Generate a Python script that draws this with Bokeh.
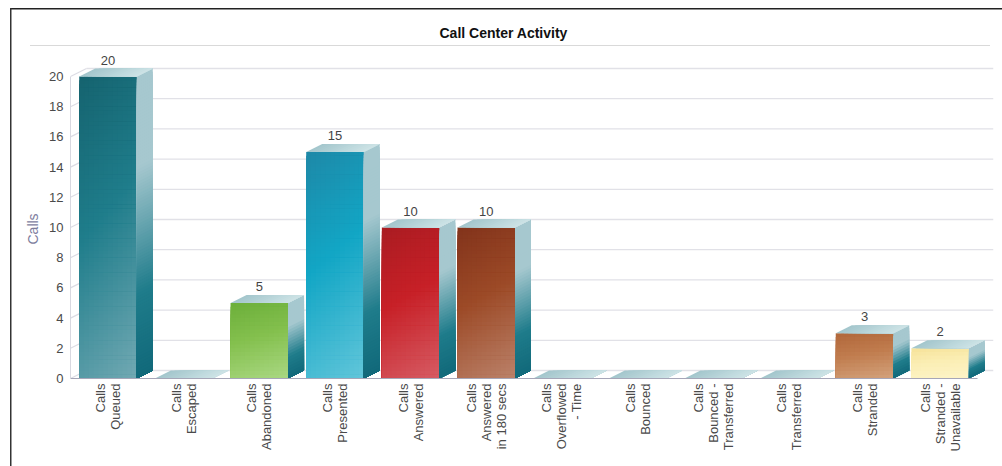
import math
from bokeh.plotting import figure
from bokeh.models import ColumnDataSource, FixedTicker, LinearAxis, Range1d, Title
from bokeh.core.properties import value
from bokeh.embed import file_html
from bokeh.resources import INLINE

categories = ["Calls\nQueued", "Calls\nEscaped", "Calls\nAbandoned", "Calls\nPresented",
              "Calls\nAnswered", "Calls\nAnswered\nin 180 secs", "Calls\nOverflowed\n- Time",
              "Calls\nBounced", "Calls\nBounced -\nTransferred", "Calls\nTransferred",
              "Calls\nStranded", "Calls\nStranded -\nUnavailable"]
calls = [20, 0, 5, 15, 10, 10, 0, 0, 0, 0, 3, 2]
y_ticks = [0, 2, 4, 6, 8, 10, 12, 14, 16, 18, 20]

teal = ["#15636f", "#1f7d8b", "#72a9b3"]
front_colors = [
    teal, teal,
    ["#6caf3a", "#84c04e", "#aad883"],
    ["#1e88a7", "#12a6c5", "#62c6da"],
    ["#aa1c22", "#c72027", "#d65c64"],
    ["#82331b", "#9c4a27", "#bb826a"],
    teal, teal, teal, teal,
    ["#b1673a", "#c07c4e", "#d3a27c"],
    ["#f6e29a", "#fbeeb4", "#fdf4c8"],
]

STEP, UNIT = 75.65, 15.1                # pixels per category / per call
X0, Y0 = 107.5, 378                     # page pixel of category 0 / of 0 calls
DX, DY = 16 / STEP, 8 / UNIT            # 3D depth in data units
BAR_W = 57.5 / STEP
LEFT, RIGHT, TOP = 70, 993, 46          # frame edges on the page
W, H = 1002, 466


def hex2rgb(h):
    return tuple(int(h[i:i + 2], 16) for i in (1, 3, 5))


def ramp(stops, t):
    for (a, ca), (b, cb) in zip(stops, stops[1:]):
        if t <= b:
            f = 0 if b == a else (t - a) / (b - a)
            ra, rb = hex2rgb(ca), hex2rgb(cb)
            return "#%02x%02x%02x" % tuple(round(ra[k] + (rb[k] - ra[k]) * f) for k in range(3))
    return stops[-1][1]


side_stops = [(0, "#a6c8cf"), (0.30, "#a6c8cf"), (0.72, "#1f7c8b"), (1, "#11697a")]
roof_stops = [(0, "#a3c6cc"), (1, "#cde3e6")]

x_start = (LEFT - X0) / STEP
x_end = (RIGHT - X0) / STEP
y_top = (Y0 - TOP) / UNIT

p = figure(width=W, height=H, output_backend="svg", toolbar_location=None,
           x_range=Range1d(x_start, x_end), y_range=Range1d(0, y_top),
           x_axis_location=None, y_axis_location=None,
           min_border_left=LEFT, min_border_right=W - RIGHT,
           min_border_top=TOP, min_border_bottom=H - Y0)
p.background_fill_color = None
p.border_fill_color = None
p.outline_line_color = None
p.xgrid.visible = False
p.ygrid.visible = False


def bar(col, x, y, w, h):
    return f"linear-gradient({col},{col}) {x}px {y}px/{w}px {h}px no-repeat"


# page frame and the rule under the title
p.styles = {"background": ", ".join([
    bar("#333333", 10, 8, 1.5, H - 8),
    bar("#222222", 10, 8, W - 10, 1.5),
    bar("#d9d9d9", 30, 45, 960, 1.4),
]) + ", #ffffff"}

title = Title(text="Call Center Activity", align="left", offset=369, standoff=11,
              text_font="Liberation Sans", text_font_size="14px", text_font_style="bold",
              text_color="#111111")
p.add_layout(title, "above")

# back wall grid
GRID = "#e1e1e7"
p.segment(x0=[x_start + DX] * len(y_ticks), y0=[v + DY for v in y_ticks],
          x1=[x_end] * len(y_ticks), y1=[v + DY for v in y_ticks],
          line_color=GRID, line_width=1.3)
p.segment(x0=[x_start] * len(y_ticks), y0=y_ticks,
          x1=[x_start + DX] * len(y_ticks), y1=[v + DY for v in y_ticks],
          line_color="#dcdce4", line_width=1.2)

# bars, built from overlapping patches painted in order to get colour gradients
xs, ys, cs = [], [], []
for i, v in enumerate(calls):
    l, r = i - BAR_W / 2, i + BAR_W / 2
    if v > 0:
        # front
        rows = max(8, v * 4)
        cols = 12
        stops = [(0, front_colors[i][0]), (0.45, front_colors[i][1]), (1, front_colors[i][2])]
        for a in range(rows):
            for b in range(cols):
                t = 0.82 * (a + 0.5) / rows + 0.18 * (b + 0.5) / cols
                x0 = l + (r - l) * b / cols
                yh = v * (1 - a / rows)
                xs.append([x0, r, r, x0]); ys.append([0, 0, yh, yh]); cs.append(ramp(stops, t))
        # side
        rows = max(16, v * 5)
        for a in range(rows):
            yh = v * (1 - a / rows)
            xs.append([r, r + DX, r + DX, r]); ys.append([yh, yh + DY, DY, 0])
            cs.append(ramp(side_stops, (a + 0.5) / rows))
    # roof
    n = 14
    for b in range(n):
        x0 = l + (r - l) * b / n
        xs.append([x0, r, r + DX, x0 + DX]); ys.append([v, v, v + DY, v + DY])
        cs.append(ramp(roof_stops, (b + 0.5) / n))

p.patches(xs="xs", ys="ys", fill_color="cs", line_color=None,
          source=ColumnDataSource(dict(xs=xs, ys=ys, cs=cs)))

# value labels
shown = [(i, v) for i, v in enumerate(calls) if v > 0]
p.text(x=[i for i, _ in shown], y=[v for _, v in shown], text=[str(v) for _, v in shown],
       text_font=value("Liberation Sans"), text_font_size="13px", text_color="#444444",
       text_align="center", text_baseline="bottom", y_offset=-12)

# axes
yax = LinearAxis(ticker=FixedTicker(ticks=y_ticks), bounds=(0, 20))
yax.axis_line_color = "#d8d8e0"
yax.major_tick_line_color = None
yax.minor_tick_line_color = None
yax.major_label_text_font = "Liberation Sans"
yax.major_label_text_font_size = "13px"
yax.major_label_text_color = "#4a4a4a"
yax.major_label_standoff = 1
p.add_layout(yax, "left")

p.add_layout(Title(text="Calls", align="left", offset=134, standoff=12, text_font="Liberation Sans",
                   text_font_size="14px", text_font_style="normal", text_color="#7d7d9d"), "left")

xax = LinearAxis(ticker=FixedTicker(ticks=list(range(len(categories)))),
                 bounds=(x_start, 11.5),
                 major_label_overrides={i: c for i, c in enumerate(categories)})
xax.axis_line_color = "#a6a6b8"
xax.axis_line_width = 1.2
xax.major_tick_line_color = None
xax.minor_tick_line_color = None
xax.major_label_orientation = math.pi / 2
xax.major_label_text_font = "Liberation Sans"
xax.major_label_text_font_size = "13px"
xax.major_label_text_color = "#4a4a4a"
xax.major_label_text_line_height = 1.0
xax.major_label_standoff = -1
p.add_layout(xax, "below")

open("out.html", "w").write(file_html(p, INLINE))
